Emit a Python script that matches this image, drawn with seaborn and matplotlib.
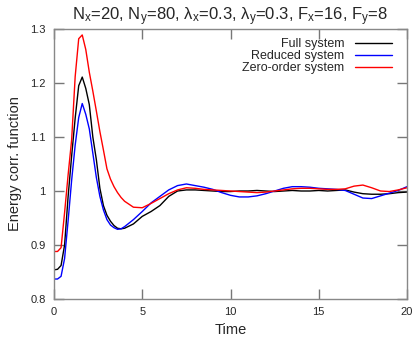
import numpy as np
import pandas as pd
import matplotlib
matplotlib.use("Agg")
import matplotlib.pyplot as plt
import seaborn as sns

time = [0, 0.2, 0.4, 0.6, 0.8, 1.0, 1.2, 1.4, 1.6, 1.8, 2.0, 2.2, 2.4, 2.6, 2.8,
        3.0, 3.2, 3.4, 3.6, 3.8, 4.0, 4.5, 5.0, 5.5, 6.0, 6.5, 7.0, 7.5, 8.0,
        8.5, 9.0, 9.5, 10.0, 10.5, 11.0, 11.5, 12.0, 12.5, 13.0, 13.5, 14.0,
        14.5, 15.0, 15.5, 16.0, 16.5, 17.0, 17.5, 18.0, 18.5, 19.0, 19.5, 20.0]

full_system = [0.854, 0.855, 0.862, 0.900, 0.990, 1.065, 1.135, 1.195, 1.211, 1.190,
               1.160, 1.100, 1.058, 1.005, 0.973, 0.955, 0.944, 0.936, 0.931, 0.930,
               0.931, 0.939, 0.953, 0.962, 0.973, 0.990, 1.000, 1.002, 1.002, 1.001,
               1.000, 0.999, 0.999, 1.000, 1.000, 1.001, 1.000, 0.999, 1.000, 1.001,
               1.000, 1.000, 1.001, 1.000, 1.001, 1.002, 0.998, 0.995, 0.994, 0.994,
               0.995, 0.997, 0.998]

reduced_system = [0.837, 0.837, 0.842, 0.875, 0.945, 1.020, 1.085, 1.136, 1.162, 1.142,
                  1.115, 1.070, 1.025, 0.990, 0.965, 0.947, 0.937, 0.932, 0.929, 0.930,
                  0.934, 0.947, 0.962, 0.978, 0.990, 1.002, 1.010, 1.013, 1.010, 1.007,
                  1.003, 0.997, 0.992, 0.989, 0.989, 0.991, 0.995, 1.000, 1.005, 1.008,
                  1.008, 1.007, 1.005, 1.004, 1.003, 1.001, 0.994, 0.987, 0.986, 0.991,
                  0.996, 1.001, 1.008]

zero_order_system = [0.888, 0.888, 0.895, 0.960, 1.030, 1.095, 1.212, 1.282, 1.289, 1.262,
                     1.220, 1.185, 1.148, 1.110, 1.076, 1.041, 1.022, 1.008, 0.997, 0.988,
                     0.981, 0.970, 0.969, 0.977, 0.986, 0.995, 1.002, 1.006, 1.005, 1.003,
                     1.002, 1.001, 1.000, 0.999, 0.998, 0.997, 0.998, 1.000, 1.002, 1.004,
                     1.005, 1.005, 1.004, 1.003, 1.003, 1.004, 1.009, 1.011, 1.006, 1.000,
                     0.999, 1.002, 1.006]

series_names = ["Full system", "Reduced system", "Zero-order system"]
series_colors = ["#000000", "#0000ff", "#ff0000"]
x_ticks = [0, 5, 10, 15, 20]
y_ticks = [0.8, 0.9, 1.0, 1.1, 1.2, 1.3]
y_tick_labels = ["0.8", "0.9", "1", "1.1", "1.2", "1.3"]

sns.set_style("ticks")
plt.rcParams["font.family"] = ["Liberation Sans", "DejaVu Sans"]
plt.rcParams["mathtext.fontset"] = "custom"
plt.rcParams["mathtext.rm"] = "Liberation Sans"
plt.rcParams["mathtext.it"] = "Liberation Sans:italic"

df = pd.DataFrame({
    "Time": time * 3,
    "Value": full_system + reduced_system + zero_order_system,
    "Series": [series_names[0]] * len(time) + [series_names[1]] * len(time)
              + [series_names[2]] * len(time),
})

fig = plt.figure(figsize=(4.15, 3.37), dpi=100)
ax = fig.add_axes([54 / 415, 1 - 299 / 337, 353 / 415, 270 / 337])

for name, col in zip(series_names, series_colors):
    sns.lineplot(data=df[df["Series"] == name], x="Time", y="Value", color=col,
                 label=name, linewidth=1.0, ax=ax, estimator=None, sort=False)

ax.set_xlim(0, 20)
ax.set_ylim(0.8, 1.3)
ax.set_xticks(x_ticks)
ax.set_xticklabels([str(v) for v in x_ticks])
ax.set_yticks(y_ticks)
ax.set_yticklabels(y_tick_labels)
ax.tick_params(which="major", direction="in", length=7, width=1.0, color="#777777",
               bottom=True, left=True, top=True, right=True,
               labelsize=8, pad=6)
ax.minorticks_off()
for s in ax.spines.values():
    s.set_visible(True)
    s.set_color("#888888")
    s.set_linewidth(1.0)

ax.set_xlabel("Time", fontsize=10.5, labelpad=4)
ax.set_ylabel("Energy corr. function", fontsize=10.5, labelpad=6)
ax.set_title("N$_{\\rm x}$=20, N$_{\\rm y}$=80, λ$_{\\rm x}$=0.3, "
             "λ$_{\\rm y}$=0.3, F$_{\\rm x}$=16, F$_{\\rm y}$=8",
             fontsize=12, pad=6)

ax.legend(loc="upper right", frameon=False, markerfirst=False, fontsize=9,
          handlelength=3.0, handletextpad=0.8, labelspacing=0.0,
          borderaxespad=0.0, bbox_to_anchor=(0.972, 0.985))

fig.savefig("out.png", dpi=100)
